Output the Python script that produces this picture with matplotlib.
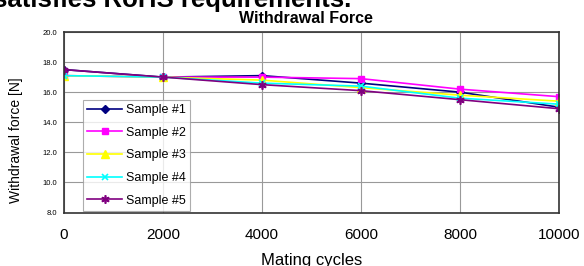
import matplotlib
matplotlib.use("Agg")
import matplotlib.pyplot as plt

cycles = [0, 2000, 4000, 6000, 8000, 10000]
sample1 = [17.5, 17.0, 17.1, 16.6, 16.0, 15.0]
sample2 = [17.1, 17.0, 17.0, 16.9, 16.2, 15.7]
sample3 = [17.1, 17.0, 16.8, 16.3, 15.8, 15.4]
sample4 = [17.1, 17.0, 16.6, 16.4, 15.6, 15.2]
sample5 = [17.5, 17.0, 16.5, 16.1, 15.5, 14.9]
labels = ["Sample #1", "Sample #2", "Sample #3", "Sample #4", "Sample #5"]
yticks = [8.0, 10.0, 12.0, 14.0, 16.0, 18.0, 20.0]
xticks = [0, 2000, 4000, 6000, 8000, 10000]

plt.rcParams['font.family'] = ['Liberation Sans', 'DejaVu Sans']

W, H = 584, 266
fig = plt.figure(figsize=(5.84, 2.66), dpi=100)
ax = fig.add_axes([64/W, 1-212.5/H, 495/W, 180.5/H])

styles = [
    dict(color="#000080", marker="D", ms=4.5),
    dict(color="#FF00FF", marker="s", ms=5),
    dict(color="#FFFF00", marker="^", ms=5.5),
    dict(color="#00FFFF", marker="x", ms=5, mew=1.2),
    dict(color="#800080", marker=(6, 2, 0), ms=6, mew=1.2),
]
for vals, lab, st in zip([sample1, sample2, sample3, sample4, sample5], labels, styles):
    ax.plot(cycles, vals, label=lab, lw=1.2, **st)

ax.set_xlim(0, 10000)
ax.set_ylim(8, 20)
ax.set_xticks(xticks)
ax.set_xticklabels([str(x) for x in xticks], fontsize=11)
ax.set_yticks(yticks)
ax.set_yticklabels([f"{v:.1f}" for v in yticks], fontsize=5.5)
ax.tick_params(axis='both', length=0)
ax.tick_params(axis='x', pad=11)
ax.tick_params(axis='y', pad=5)
ax.grid(True, color="#999999", lw=0.8)
ax.set_axisbelow(True)
for s in ax.spines.values():
    s.set_color("#333333")
    s.set_linewidth(1.2)

fig.text(312/W, 0.5/H, "Mating cycles", fontsize=12, ha="center", va="baseline")
fig.text(16/W, 1-140/H, "Withdrawal force [N]", fontsize=10, rotation=90,
         ha="center", va="center")
fig.text(306/W, 1-18.5/H, "Withdrawal Force", fontsize=11.5, fontweight="bold",
         ha="center", va="center")

leg = ax.legend(loc="lower left", bbox_to_anchor=(0.0377, 0.008), fontsize=9,
                frameon=True, fancybox=False, edgecolor="#999999",
                handlelength=2.8, labelspacing=0.85, borderpad=0.35,
                handletextpad=0.3, borderaxespad=0)
leg.get_frame().set_linewidth(0.8)

fig.text(351/W, 1 - 6.7/H, "satisfies RoHS requirements.", fontsize=18.5,
         fontweight="bold", ha="right", va="baseline")

fig.savefig("out.png", dpi=100)
